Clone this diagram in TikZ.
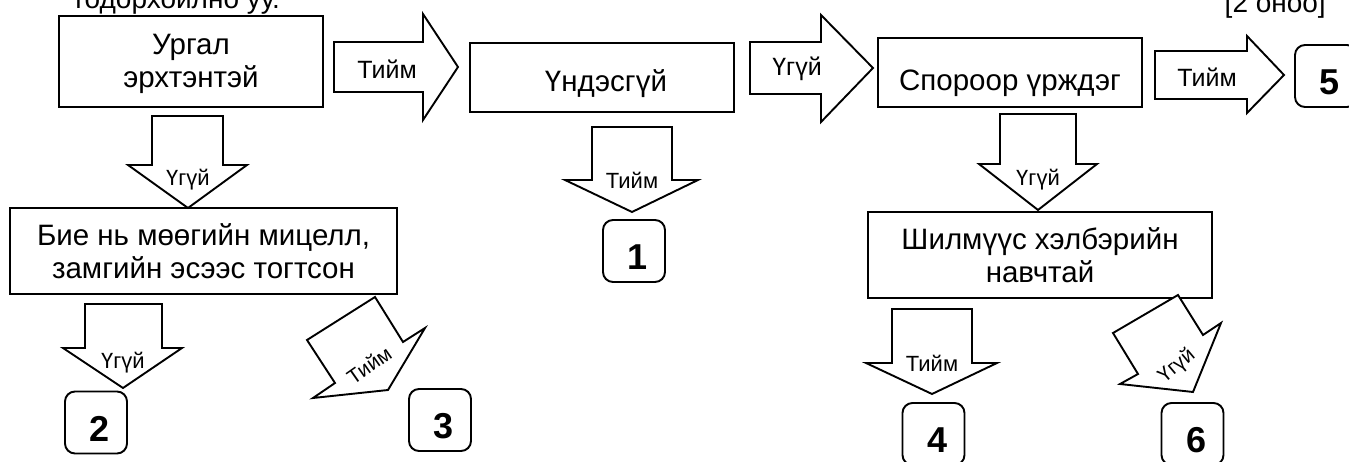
\documentclass[tikz,border=0pt]{standalone}
\usepackage{fontspec}
\setmainfont{Liberation Sans}
\newcommand{\rblock}[8]{%
  \draw[blockarrow] (#1,#2) -- (#4,#2) -- (#4,#5) -- (#7,#8) -- (#4,#6) -- (#4,#3) -- (#1,#3) -- cycle;}
\newcommand{\dblock}[8]{%
  \draw[blockarrow] (#1,#3) -- (#2,#3) -- (#2,#4) -- (#6,#4) -- (#7,#8) -- (#5,#4) -- (#1,#4) -- cycle;}
\newcommand{\numtext}[1]{\hspace*{7pt}#1}
\tikzset{
  box/.style={draw, line width=1.9pt, inner sep=0pt, align=center, font=\fontsize{29.5}{33}\selectfont},
  numbox/.style={draw, line width=1.9pt, rounded corners=10pt, minimum width=62pt, minimum height=62pt, inner sep=0pt, text height=37.8pt, text depth=0pt, font=\fontsize{36}{36}\selectfont\bfseries},
  blockarrow/.style={draw, line width=1.9pt, fill=white, line join=miter},
  biglabel/.style={font=\fontsize{25}{26}\selectfont, inner sep=0pt},
  smalllabel/.style={font=\fontsize{22}{23}\selectfont, inner sep=0pt},
  diaglabel/.style={font=\fontsize{20.5}{21}\selectfont, inner sep=0pt},
  toptext/.style={font=\fontsize{28}{33}\selectfont, inner sep=0pt},
}
\begin{document}
\begin{tikzpicture}[x=1pt,y=-1pt]
\useasboundingbox (0,0) rectangle (1349,462);
\clip (0,0) rectangle (1349,462);
% top texts
\node[toptext, anchor=base west] (title) at (72,9) {тодорхойлно уу.};
\node[toptext, anchor=base east] (score) at (1326,12.5) {[2 оноо]};
% boxes
\node[box, minimum width=264pt, minimum height=91pt] (A) at (191,61.5) {\rule{0pt}{26pt}Ургал\\эрхтэнтэй};
\node[box, minimum width=264pt, minimum height=69pt, text height=28pt, text depth=0pt] (B) at (602,77.5) {\hspace*{8pt}Үндэсгүй};
\node[box, minimum width=264pt, minimum height=69pt, text height=36pt, text depth=0pt] (C) at (1010,72.5) {Спороор үрждэг};
\node[box, minimum width=387pt, minimum height=86pt] (D) at (203.5,251) {Бие нь мөөгийн мицелл,\\замгийн эсээс тогтсон};
\node[box, minimum width=344pt, minimum height=86pt] (E) at (1040,255) {Шилмүүс хэлбэрийн\\навчтай};
% numbered boxes
\node[numbox] (n1) at (634,251) {\numtext{1}};
\node[numbox] (n2) at (96,422.5) {\numtext{2}};
\node[numbox] (n3) at (440,420) {\numtext{3}};
\node[numbox] (n4) at (933.5,434) {\numtext{4}};
\node[numbox] (n5) at (1326,76) {\numtext{5}};
\node[numbox] (n6) at (1192.5,434) {\numtext{6}};
% right block arrows
\rblock{334}{42}{92}{423}{14}{120}{458}{67}
\node[biglabel] (lR1) at (387,69) {Тийм};
\rblock{750}{42}{94}{821}{15}{122}{873}{68}
\node[biglabel] (lR2) at (797,69) {Үгүй};
\rblock{1155}{51}{99}{1247}{36}{113}{1284}{75}
\node[biglabel] (lR3) at (1207,77) {Тийм};
% down block arrows
\dblock{152}{223}{116}{165}{128}{247}{188}{208}
\node[smalllabel] (lD1) at (188,180) {Үгүй};
\dblock{592}{672}{127}{180}{565}{698}{632}{212}
\node[smalllabel] (lD2) at (632,180) {Тийм};
\dblock{1000}{1076}{114}{164}{979}{1097}{1038}{210}
\node[smalllabel] (lD3) at (1038,180) {Үгүй};
\dblock{85}{162}{304}{348}{63}{182}{123}{388}
\node[smalllabel] (lD4) at (123,363) {Үгүй};
\dblock{892}{972}{309}{363}{866}{997}{932}{394}
\node[smalllabel] (lD5) at (932,363) {Тийм};
% diagonal block arrows
\draw[blockarrow] (307,340) -- (375,297) -- (403,342) -- (425,328) -- (388,390) -- (313,398) -- (335,383) -- cycle;
\node[diaglabel, rotate=35] (lG3) at (369,365) {Тийм};
\draw[blockarrow] (1113,333) -- (1178,295) -- (1203,335) -- (1221,323) -- (1193,392) -- (1120,384) -- (1138,374) -- cycle;
\node[diaglabel, rotate=40] (lG6) at (1177,366) {Үгүй};
\end{tikzpicture}
\end{document}
